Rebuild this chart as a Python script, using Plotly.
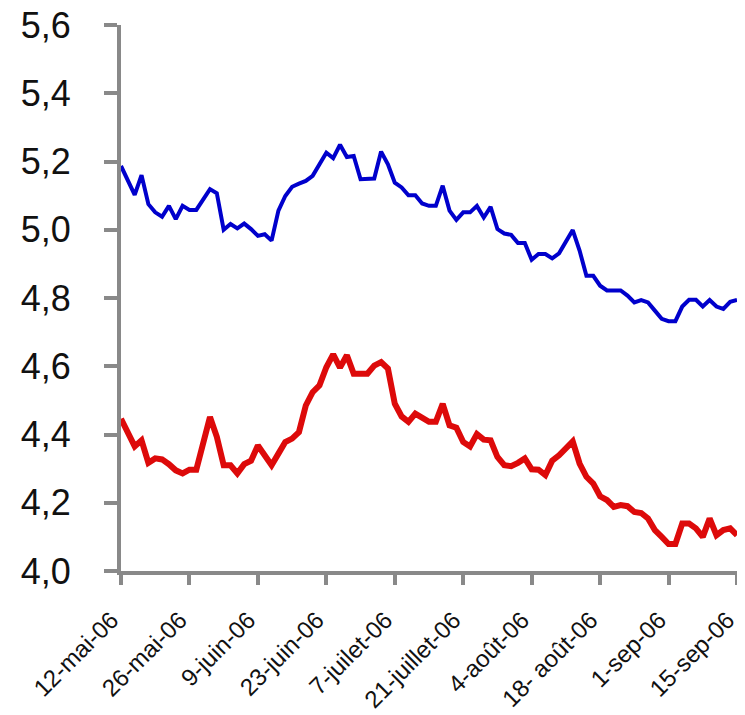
import pandas as pd
import plotly.graph_objects as go

# weekdays from 12 May 2006 to 15 Sep 2006
dates = [d.strftime("%Y-%m-%d") for d in pd.bdate_range("2006-05-12", "2006-09-15")]

blue_series = [5.187,5.145,5.102,5.160,5.075,5.051,5.038,5.070,5.031,5.070,
               5.058,5.058,5.090,5.119,5.107,5.000,5.017,5.004,5.018,5.002,
               4.982,4.987,4.968,5.056,5.099,5.126,5.135,5.143,5.158,5.192,
               5.226,5.210,5.249,5.213,5.216,5.148,5.148,5.150,5.229,5.192,
               5.138,5.124,5.101,5.101,5.077,5.070,5.070,5.129,5.056,5.029,
               5.051,5.051,5.070,5.036,5.067,5.002,4.989,4.985,4.961,4.961,
               4.912,4.929,4.929,4.916,4.931,4.968,4.999,4.939,4.865,4.865,
               4.836,4.822,4.822,4.822,4.807,4.787,4.794,4.787,4.763,4.739,
               4.732,4.732,4.775,4.795,4.795,4.775,4.794,4.775,4.768,4.789,4.794]

red_series = [4.446,4.407,4.365,4.383,4.317,4.330,4.327,4.313,4.295,4.286,
              4.297,4.297,4.373,4.451,4.393,4.310,4.310,4.286,4.313,4.323,
              4.368,4.339,4.310,4.344,4.378,4.388,4.407,4.485,4.524,4.544,
              4.597,4.635,4.596,4.632,4.578,4.578,4.578,4.602,4.612,4.593,
              4.490,4.453,4.437,4.461,4.451,4.437,4.437,4.490,4.427,4.420,
              4.378,4.365,4.401,4.385,4.383,4.334,4.310,4.307,4.317,4.330,
              4.298,4.297,4.281,4.323,4.339,4.359,4.380,4.315,4.276,4.256,
              4.219,4.208,4.188,4.193,4.190,4.173,4.170,4.154,4.120,4.100,
              4.079,4.079,4.139,4.139,4.125,4.100,4.154,4.105,4.120,4.125,4.105]

tick_dates = dates[::10]
tick_labels = ["12-mai-06", "26-mai-06", "9-juin-06", "23-juin-06", "7-juilet-06",
               "21-juillet-06", "4-août-06", "18- août-06", "1-sep-06", "15-sep-06"]
y_ticks = [4.0, 4.2, 4.4, 4.6, 4.8, 5.0, 5.2, 5.4, 5.6]

FONT = "Liberation Sans Narrow, Arial Narrow, Liberation Sans, Arial, sans-serif"
AXIS = "#898989"

fig = go.Figure()
fig.add_trace(go.Scatter(x=dates, y=blue_series, mode="lines",
                         line=dict(color="#0000CC", width=4), showlegend=False))
fig.add_trace(go.Scatter(x=dates, y=red_series, mode="lines",
                         line=dict(color="#DD0A0A", width=6), showlegend=False))

# page body has an 8px margin, so the figure is sized to fit the window
fig.update_layout(
    width=737, height=707,
    margin=dict(l=113, r=8, t=17, b=144, pad=0),
    plot_bgcolor="white", paper_bgcolor="white",
    separators=", ",
    font=dict(family=FONT, color="#111111"),
    xaxis=dict(type="category", range=[0, 90], tickmode="array",
               tickvals=tick_dates,
               ticktext=[t + "\u00a0\u00a0" for t in tick_labels],
               tickangle=-45,
               tickfont=dict(size=24, family=FONT, color="#111111"),
               showline=True, linecolor=AXIS, linewidth=4,
               ticks="outside", tickcolor=AXIS, tickwidth=4, ticklen=10,
               ticklabelstandoff=2, automargin=False, ticklabeloverflow="allow",
               showgrid=False, zeroline=False),
    yaxis=dict(range=[4.0, 5.6], tickmode="array", tickvals=y_ticks,
               tickformat=".1f",
               tickfont=dict(size=36, family=FONT, color="#111111"),
               showline=True, linecolor=AXIS, linewidth=4,
               ticks="outside", tickcolor=AXIS, tickwidth=4, ticklen=13,
               ticklabelstandoff=26, automargin=False, ticklabeloverflow="allow",
               showgrid=False, zeroline=False),
)

fig.write_html("out.html")
